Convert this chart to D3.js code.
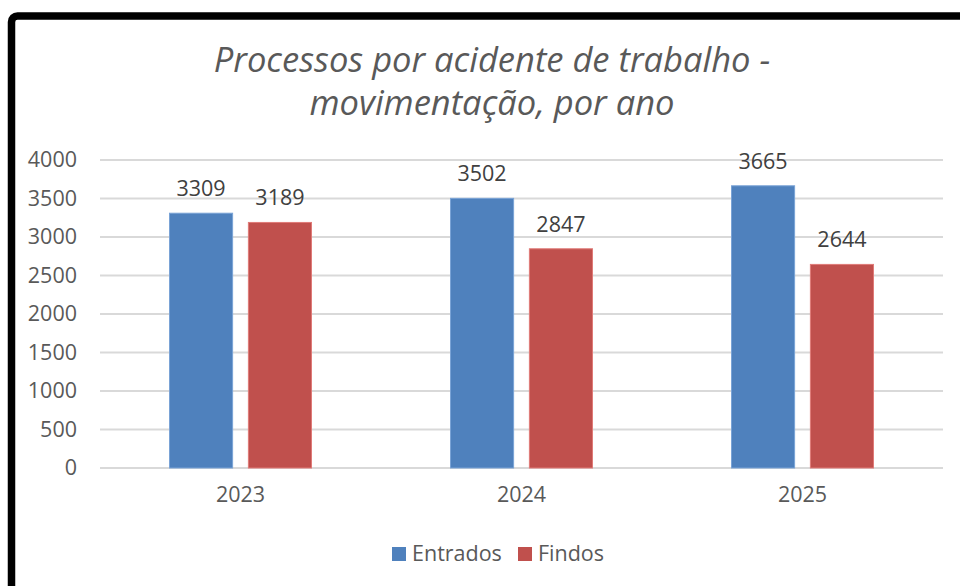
<!DOCTYPE html>
<html>
<head>
<meta charset="utf-8">
<script src="https://cdn.jsdelivr.net/npm/d3@7"></script>
<style>
    html, body { margin: 0; padding: 0; background: #fff; overflow: hidden; }
    svg { display: block; font-family: "Open Sans", sans-serif; }
</style>
</head>
<body>
<svg id="chart" width="960" height="586"></svg>
<script>
// 數據
const years = ['2023', '2024', '2025'];
const seriesNames = ['Entrados', 'Findos'];
const entrados = [3309, 3502, 3665];
const findos = [3189, 2847, 2644];
const yTicks = [0, 500, 1000, 1500, 2000, 2500, 3000, 3500, 4000];
const titleLines = ['Processos por acidente de trabalho -', 'movimentação, por ano'];

const colors = ['#4f81bd', '#c0504d'];
const edgeColors = ['#7aa3d6', '#e07b78'];

const svg = d3.select('#chart');

// 外框
svg.append('rect')
    .attr('x', 11.5)
    .attr('y', 16)
    .attr('width', 990)
    .attr('height', 620)
    .attr('rx', 6)
    .attr('fill', '#fff')
    .attr('stroke', '#000')
    .attr('stroke-width', 7.5);

// 標題
svg.append('text')
    .attr('x', 492)
    .attr('text-anchor', 'middle')
    .attr('fill', '#595959')
    .style('font-size', '34.5px')
    .style('font-style', 'italic')
    .selectAll('tspan')
    .data(titleLines)
    .enter()
    .append('tspan')
    .attr('x', 492)
    .attr('y', (d, i) => 72 + i * 43)
    .text(d => d);

const margin = { top: 160, left: 100, right: 17, bottom: 118 };
const width = 960 - margin.left - margin.right;
const height = 586 - margin.top - margin.bottom;

const g = svg.append('g')
    .attr('transform', `translate(${margin.left}, ${margin.top})`);

const x0 = d3.scaleBand()
    .domain(years)
    .range([0, width])
    .paddingInner(0)
    .paddingOuter(0);

const x1 = d3.scaleBand()
    .domain(seriesNames)
    .range([69.5, x0.bandwidth() - 69.5])
    .paddingInner(0.2);

const y = d3.scaleLinear()
    .domain([0, 4000])
    .range([height, 0]);

// 網格線
g.append('g')
    .selectAll('line')
    .data(yTicks)
    .enter()
    .append('line')
    .attr('x1', 0)
    .attr('x2', width)
    .attr('y1', d => y(d))
    .attr('y2', d => y(d))
    .attr('stroke', '#d9d9d9')
    .attr('stroke-width', 2);

// Y 軸
const yAxis = g.append('g')
    .call(d3.axisLeft(y).tickValues(yTicks).tickFormat(d3.format('d')).tickSize(0).tickPadding(23));
yAxis.select('.domain').remove();
yAxis.selectAll('text')
    .attr('fill', '#595959')
    .style('font-size', '21.5px')
    .style('font-family', '"Open Sans", sans-serif');

// X 軸
const xAxis = g.append('g')
    .attr('transform', `translate(0, ${height})`)
    .call(d3.axisBottom(x0).tickSize(0).tickPadding(19));
xAxis.select('.domain').remove();
xAxis.selectAll('text')
    .attr('fill', '#595959')
    .style('font-size', '21.5px')
    .style('font-family', '"Open Sans", sans-serif');

// 長條
const rows = years.map((yr, i) => ({
    year: yr,
    values: [
        { name: seriesNames[0], value: entrados[i], idx: 0 },
        { name: seriesNames[1], value: findos[i], idx: 1 }
    ]
}));

const groups = g.selectAll('.group')
    .data(rows)
    .enter()
    .append('g')
    .attr('class', 'group')
    .attr('transform', d => `translate(${x0(d.year)}, 0)`);

groups.selectAll('rect')
    .data(d => d.values)
    .enter()
    .append('rect')
    .attr('x', d => x1(d.name))
    .attr('y', d => y(d.value))
    .attr('width', x1.bandwidth())
    .attr('height', d => height - y(d.value))
    .attr('fill', d => colors[d.idx])
    .attr('stroke', d => edgeColors[d.idx])
    .attr('stroke-width', 1);

// 數據標籤
groups.selectAll('.label')
    .data(d => d.values)
    .enter()
    .append('text')
    .attr('class', 'label')
    .attr('x', d => x1(d.name) + x1.bandwidth() / 2)
    .attr('y', d => y(d.value) - 17)
    .attr('text-anchor', 'middle')
    .attr('fill', '#404040')
    .style('font-size', '21.5px')
    .text(d => d.value);

// 圖例
const legendX = [392, 518];
const legend = svg.append('g');
seriesNames.forEach((name, i) => {
    legend.append('rect')
        .attr('x', legendX[i])
        .attr('y', 547)
        .attr('width', 14)
        .attr('height', 14)
        .attr('fill', colors[i]);
    legend.append('text')
        .attr('x', legendX[i] + 20)
        .attr('y', 561)
        .attr('fill', '#595959')
        .style('font-size', '21.5px')
        .text(name);
});
</script>
</body>
</html>
